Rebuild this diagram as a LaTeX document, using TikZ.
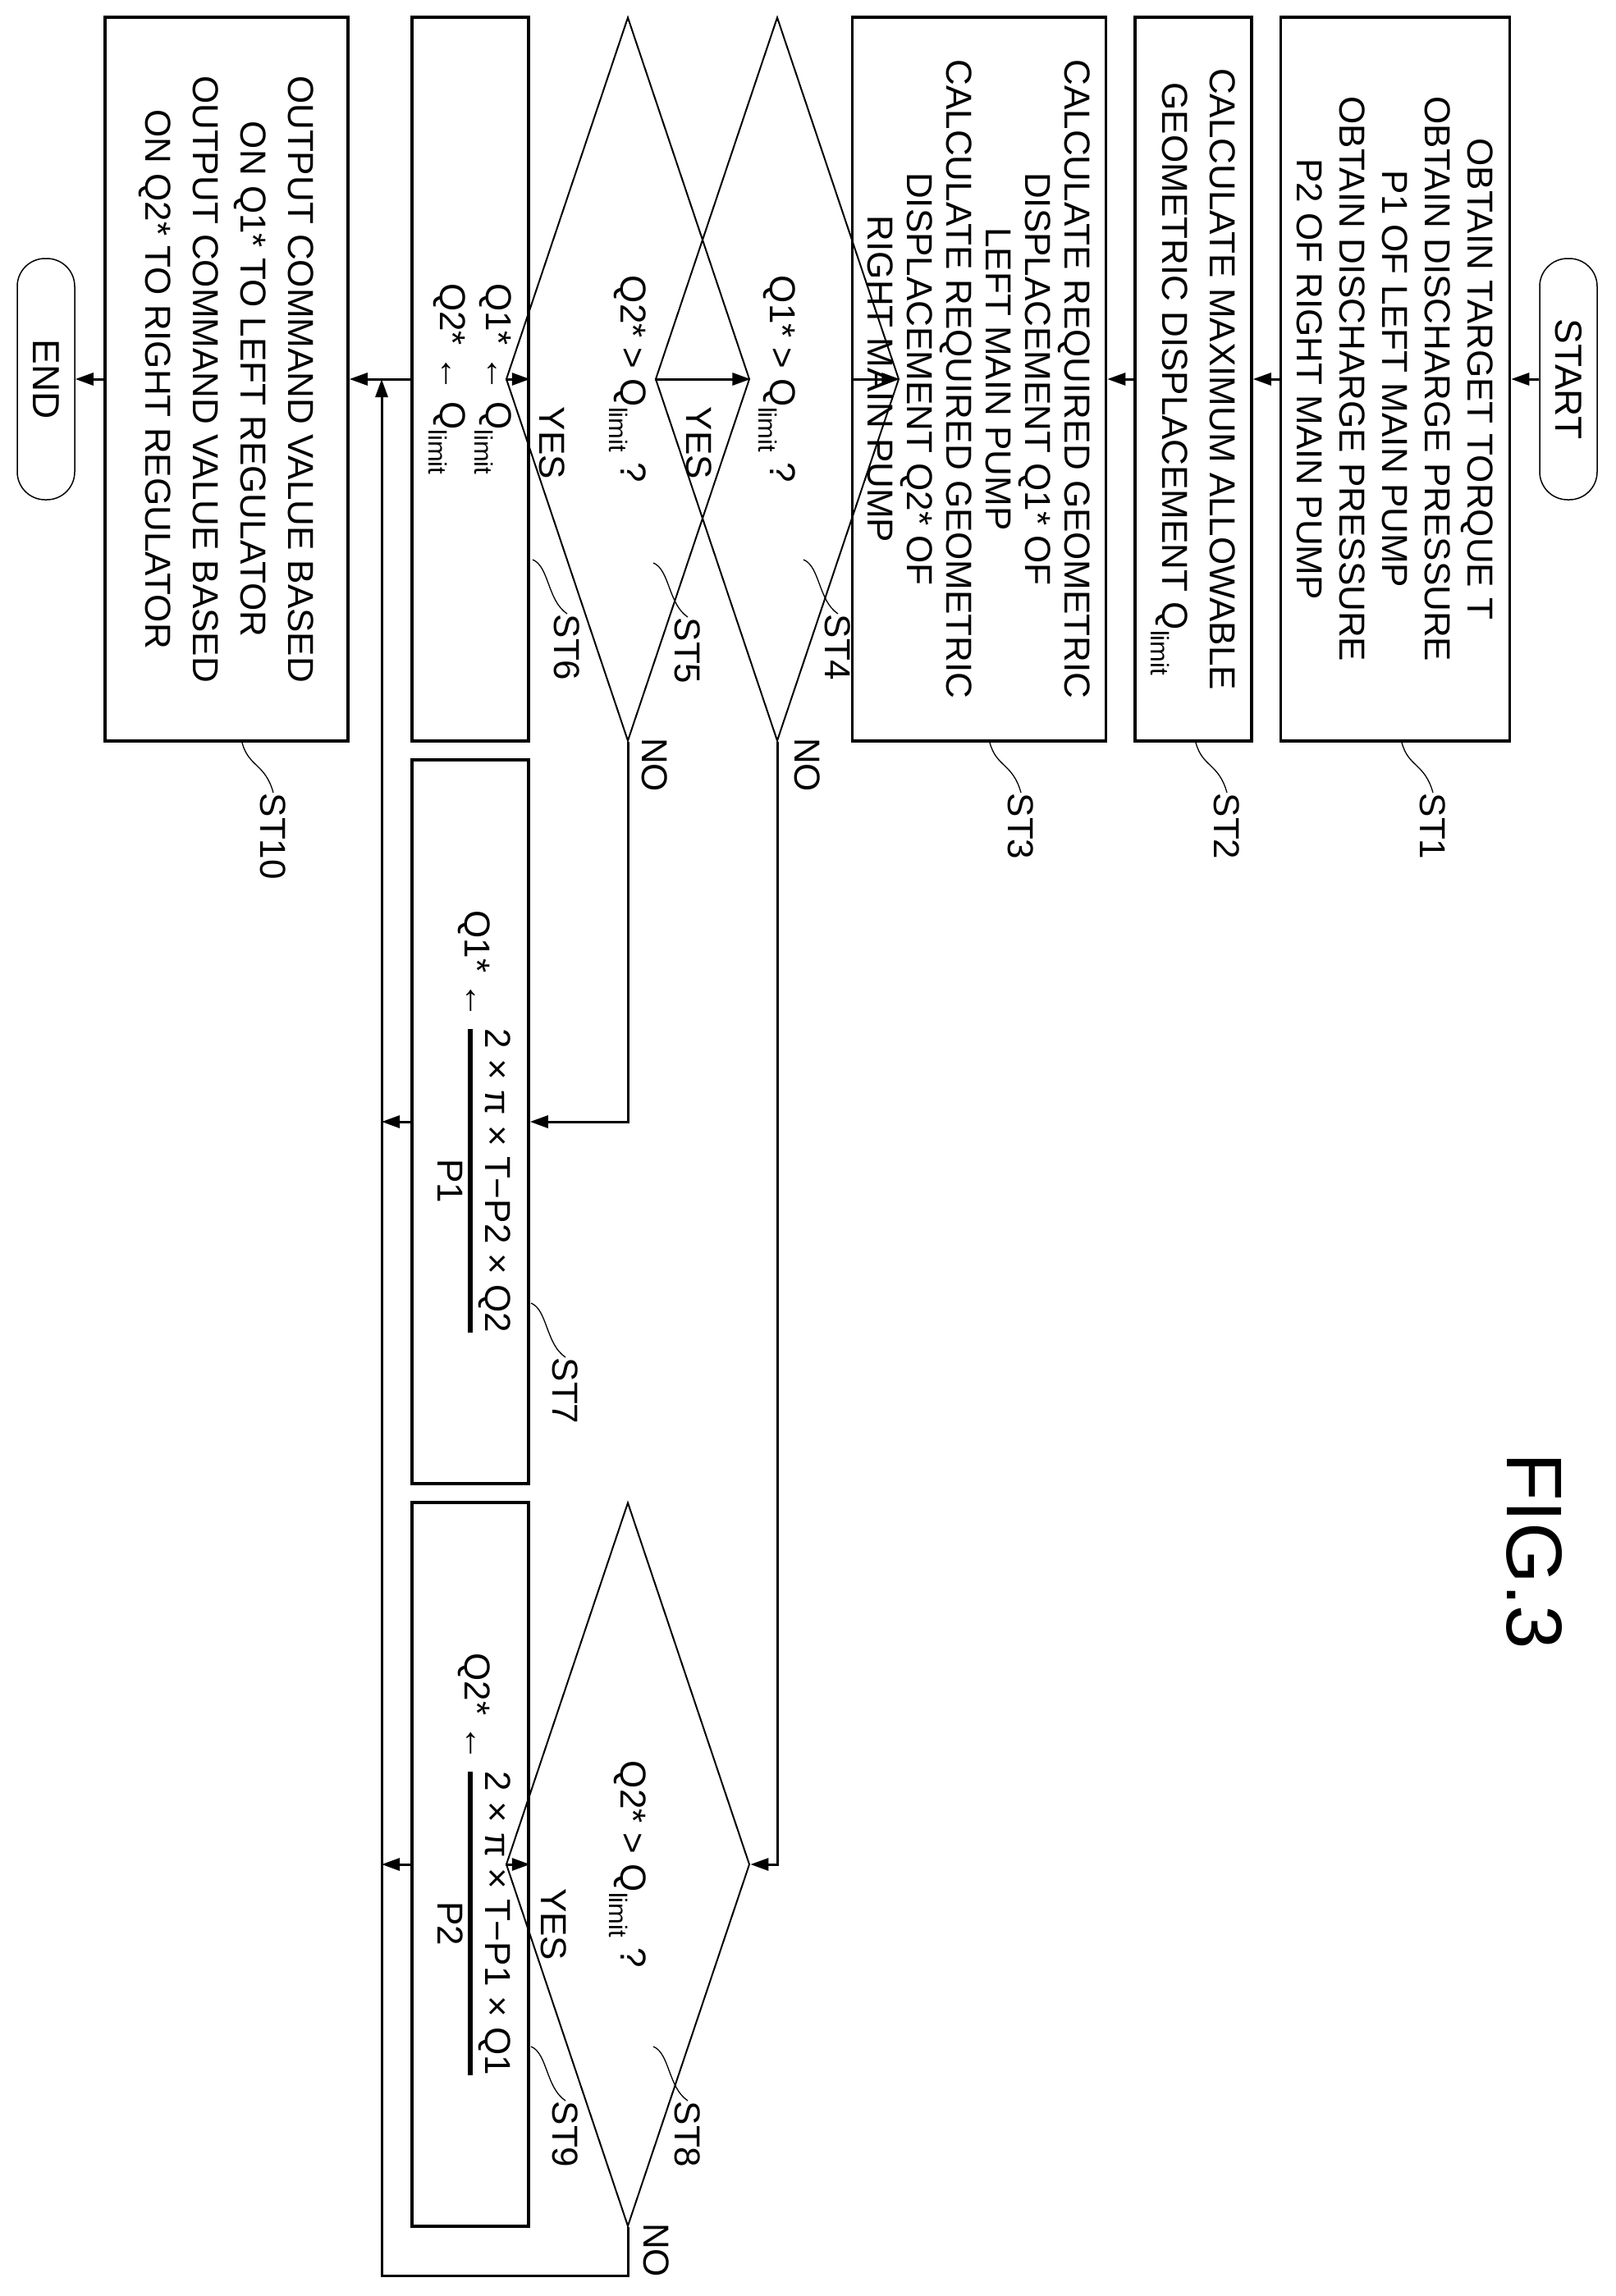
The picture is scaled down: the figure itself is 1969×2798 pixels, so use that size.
\documentclass[tikz,border=0pt]{standalone}
\usepackage{fontspec}
\setmainfont{Liberation Sans}
\usetikzlibrary{arrows.meta,shapes.geometric,calc}

\tikzset{every picture/.style={line width=1.5pt}}
\tikzset{
	stepbox/.style={draw, line width=3.5pt, rectangle, rotate=-90, inner sep=4pt, align=center, minimum width=882pt, font=\fontsize{44}{52}\selectfont},
	decide/.style={draw, line width=2pt, diamond, rotate=-90, inner sep=0pt, minimum width=882pt, font=\fontsize{44}{52}\selectfont},
	term/.style={draw, line width=1.5pt, rectangle, rounded corners=34pt, rotate=-90, minimum width=294pt, minimum height=70pt, font=\fontsize{46}{52}\selectfont},
	flow/.style={line width=3pt, -{Triangle[length=22pt,width=15pt]}},
	leader/.style={line width=1.3pt},
	tag/.style={rotate=-90, anchor=west, inner sep=0pt, font=\fontsize{44}{50}\selectfont},
	answer/.style={rotate=-90, inner sep=0pt, font=\fontsize{44}{50}\selectfont}
}
\newcommand\qlim{Q\textsubscript{limit}}
\newcommand\sideleader[3]{\draw[leader] (#1) .. controls +(18,8) and +(-6,-30) .. ++(40,66) node[tag, anchor=west] at ($(#1)+(42,72)$) {#2};}

\begin{document}
\begin{tikzpicture}[x=1pt,y=-1pt]
	\useasboundingbox (0,0) rectangle (1969,2798);

	% Terminals
	\node[term] (start) at (1911,462) {START};
	\node[term] (end) at (56,462) {END};

	% Steps of the main column
	\node[stepbox, minimum height=279pt] (st1) at (1700,462) {OBTAIN TARGET TORQUE T\\OBTAIN DISCHARGE PRESSURE\\P1 OF LEFT MAIN PUMP\\OBTAIN DISCHARGE PRESSURE\\P2 OF RIGHT MAIN PUMP};
	\node[stepbox, minimum height=142pt, font=\fontsize{44}{58}\selectfont] (st2) at (1454,462) {CALCULATE MAXIMUM ALLOWABLE\\GEOMETRIC DISPLACEMENT \qlim};
	\node[stepbox, minimum height=309pt, font=\fontsize{44}{48}\selectfont] (st3) at (1193,462) {CALCULATE REQUIRED GEOMETRIC\\DISPLACEMENT Q1* OF\\LEFT MAIN PUMP\\CALCULATE REQUIRED GEOMETRIC\\DISPLACEMENT Q2* OF\\RIGHT MAIN PUMP};
	\node[decide, minimum height=119pt] (st4) at (947,462) {Q1* > \qlim\ ?};
	\node[decide, minimum height=119pt] (st5) at (765,462) {Q2* > \qlim\ ?};
	\node[stepbox, minimum height=142pt, font=\fontsize{44}{56}\selectfont] (st6) at (573,462) {Q1* ← \qlim\\Q2* ← \qlim};
	\node[stepbox, minimum height=296pt, font=\fontsize{44}{58}\selectfont] (st10) at (276,462) {OUTPUT COMMAND VALUE BASED\\ON Q1* TO LEFT REGULATOR\\OUTPUT COMMAND VALUE BASED\\ON Q2* TO RIGHT REGULATOR};

	% Steps of the branches
	\node[stepbox, minimum height=142pt] (st7) at (573,1367) {\setlength\arrayrulewidth{6pt}Q1* ← \begin{tabular}{@{}c@{}}2 × π × T−P2 × Q2\\\hline P1\end{tabular}};
	\node[decide, minimum height=119pt] (st8) at (765,2272) {Q2* > \qlim\ ?};
	\node[stepbox, minimum height=142pt] (st9) at (573,2272) {\setlength\arrayrulewidth{6pt}Q2* ← \begin{tabular}{@{}c@{}}2 × π × T−P1 × Q1\\\hline P2\end{tabular}};

	\coordinate (mtop) at (465,462);
	\coordinate (mbot) at (465,2773);

	% Connectors
	\draw[flow] (start) -- (st1);
	\draw[flow] (st1) -- (st2);
	\draw[flow] (st2) -- (st3);
	\draw[flow] (st3) -- (st4);
	\draw[flow] (st4) -- (st5);
	\draw[flow] (st5) -- (st6);
	\draw[flow] (st6) -- (st10);
	\draw[flow] (st10) -- (end);
	\draw[flow] (st5.east) |- (st7.north);
	\draw[flow] (st4.east) |- (st8.north);
	\draw[flow] (st8) -- (st9);
	\draw[flow] (st7) -- (st7 -| mtop);
	\draw[flow] (st9) -- (st9 -| mtop);
	\draw[flow] (st8.east) |- (mbot) -- (mtop);

	% YES / NO
	\node[answer] (y4) at (852,540) {YES};
	\node[answer] (n4) at (984,932) {NO};
	\node[answer] (y5) at (673,540) {YES};
	\node[answer] (n5) at (798,932) {NO};
	\node[answer] (y8) at (675,2345) {YES};
	\node[answer] (n8) at (800,2742) {NO};

	% Step labels
	\foreach \x/\t in {1708/ST1,1457/ST2,1206/ST3,295/ST10}{
		\draw[leader] (\x,905) .. controls (\x+8,935) and (\x+28,930) .. (\x+38,966) node[tag] {\t};
	}
	\foreach \x/\y/\t in {979/682/ST4,796/686/ST5,649/682/ST6,647/1588/ST7,796/2494/ST8,647/2494/ST9}{
		\draw[leader] (\x,\y) .. controls (\x+20,\y+8) and (\x+18,\y+50) .. (\x+42,\y+66) node[tag] {\t};
	}

	% Figure title
	\node[rotate=-90, font=\fontsize{96}{100}\selectfont] (fig) at (1870,1890) {FIG.3};
\end{tikzpicture}
\end{document}
